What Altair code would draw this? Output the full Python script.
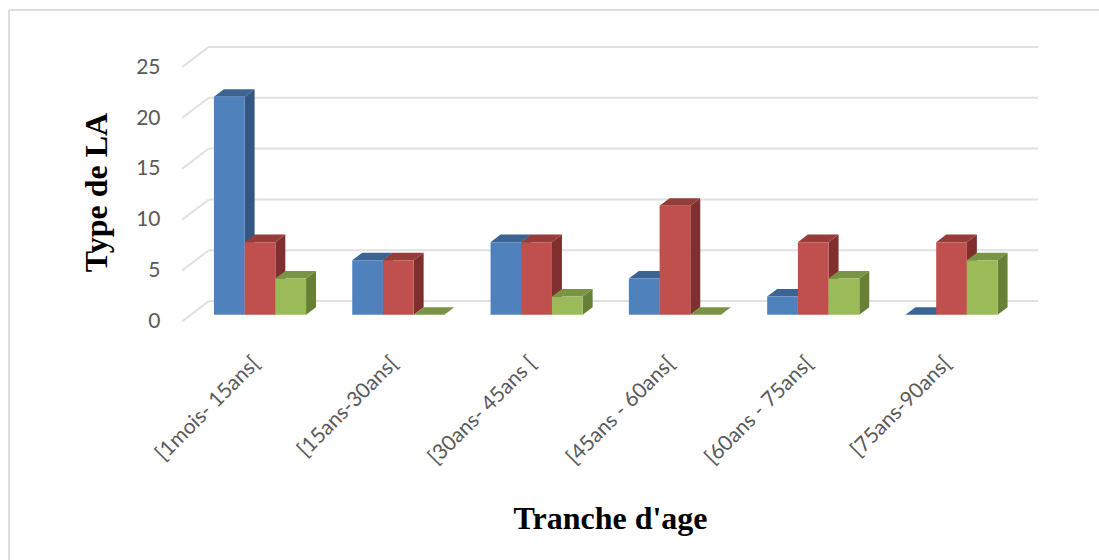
import altair as alt
import pandas as pd

# Shares per age bracket and per type, in percent
categories = ["[1mois- 15ans[", "[15ans-30ans[", "[30ans- 45ans [", "[45ans - 60ans[", "[60ans - 75ans[", "[75ans-90ans["]
series_a = [21.43, 5.36, 7.14, 3.57, 1.79, 0.0]
series_b = [7.14, 5.36, 7.14, 10.71, 7.14, 7.14]
series_c = [3.57, 0.0, 1.79, 0.0, 3.57, 5.36]
series_values = [series_a, series_b, series_c]
tick_values = [0, 5, 10, 15, 20, 25]

front_colors = ["#4F81BD", "#C0504D", "#9BBB59"]
top_colors = ["#3B6493", "#963C3A", "#7A9446"]
side_colors = ["#335782", "#7F2F2D", "#678036"]

# Oblique projection, in axis units
BAR_W = 0.222
DEPTH_X = 0.072
DEPTH_Y = 0.74
WALL_SHIFT = 1.34
FRONT_SHIFT = -0.66
WALL_X = -0.37
FLOOR_X = -0.564
RIGHT_X = 5.625

x_scale = alt.Scale(domain=[FLOOR_X, RIGHT_X], nice=False, zero=False)
y_scale = alt.Scale(domain=[-1.5, 28], nice=False, zero=False)

label_expr = "[" + ",".join(f'"{c}"' for c in categories) + "][datum.value]"

X = alt.X(
    "x:Q",
    scale=x_scale,
    title="Tranche d'age",
    axis=alt.Axis(
        values=list(range(len(categories))),
        labelExpr=label_expr,
        labelAngle=315,
        labelAlign="right",
        labelBaseline="middle",
        labelFont="Lato",
        labelFontSize=21,
        labelColor="#595959",
        labelPadding=30,
        labelOffset=-4,
        labelOverlap=False,
        labelBound=False,
        labelFlush=False,
        ticks=False,
        domain=False,
        grid=False,
        titleFont="Liberation Serif",
        titleFontSize=32,
        titleFontWeight="bold",
        titleColor="#000000",
        titleX=428,
        titleY=198,
        titleAlign="center",
        titleBaseline="alphabetic",
    ),
)
Y = alt.Y(
    "y:Q",
    scale=y_scale,
    title="Type de LA",
    axis=alt.Axis(
        values=[v + FRONT_SHIFT for v in tick_values],
        labelExpr=f"round(datum.value - ({FRONT_SHIFT}))",
        labelFont="Lato",
        labelFontSize=21,
        labelColor="#595959",
        labelPadding=22,
        labelOverlap=False,
        labelBound=False,
        labelFlush=False,
        ticks=False,
        domain=False,
        grid=False,
        titleFont="Liberation Serif",
        titleFontSize=32,
        titleFontWeight="bold",
        titleColor="#000000",
        titleX=-76,
        titleY=162,
        titleAngle=270,
        titleAlign="center",
        titleBaseline="alphabetic",
    ),
)

layers = []

# Back-wall gridlines and their slanted returns on the side wall
grid = pd.DataFrame({"v": tick_values})
grid["x"] = WALL_X
grid["x2"] = RIGHT_X
grid["y"] = grid["v"] + WALL_SHIFT
grid["xf"] = FLOOR_X
grid["yf"] = grid["v"] + FRONT_SHIFT
layers.append(alt.Chart(grid).mark_rule(color="#E0E0E0", strokeWidth=2).encode(x=X, x2="x2:Q", y=Y))
layers.append(alt.Chart(grid).mark_rule(color="#E0E0E0", strokeWidth=2).encode(x=X, x2="xf:Q", y=Y, y2="yf:Q"))

# Each series draws side, top, then front, so later series overlap earlier ones
for s, values in enumerate(series_values):
    front_rows, side_rows, top_rows = [], [], []
    for i, v in enumerate(values):
        left = i - 1.5 * BAR_W + s * BAR_W
        right = left + BAR_W
        front_rows.append({"x": left, "x2": right, "y": 0, "y2": v})
        side_rows.append({"id": i, "x": right, "y": 0, "y2": v})
        side_rows.append({"id": i, "x": right + DEPTH_X, "y": DEPTH_Y, "y2": v + DEPTH_Y})
        # The top face as vertical slices of a parallelogram
        top_rows.append({"id": i, "x": left, "y": v, "y2": v})
        top_rows.append({"id": i, "x": left + DEPTH_X, "y": v, "y2": v + DEPTH_Y})
        top_rows.append({"id": i, "x": right, "y": v, "y2": v + DEPTH_Y})
        top_rows.append({"id": i, "x": right + DEPTH_X, "y": v + DEPTH_Y, "y2": v + DEPTH_Y})
    layers.append(
        alt.Chart(pd.DataFrame(side_rows))
        .mark_area(color=side_colors[s], interpolate="linear")
        .encode(x=X, y=Y, y2="y2:Q", detail="id:N")
    )
    layers.append(
        alt.Chart(pd.DataFrame(top_rows))
        .mark_area(color=top_colors[s], interpolate="linear")
        .encode(x=X, y=Y, y2="y2:Q", detail="id:N")
    )
    layers.append(
        alt.Chart(pd.DataFrame(front_rows))
        .mark_rect(color=front_colors[s])
        .encode(x=X, x2="x2:Q", y=Y, y2="y2:Q")
    )

# Frame along the top and left edges of the sheet
frame_top = alt.Chart(pd.DataFrame({"k": [0]})).mark_rule(color="#DDDDDD", strokeWidth=2).encode(
    x=alt.value(-173), x2=alt.value(917), y=alt.value(-20)
)
frame_left = alt.Chart(pd.DataFrame({"k": [0]})).mark_rule(color="#DDDDDD", strokeWidth=2).encode(
    x=alt.value(-173), y=alt.value(-20), y2=alt.value(531)
)

chart = (
    alt.layer(*layers, frame_top, frame_left)
    .resolve_scale(x="shared", y="shared")
    .properties(
        width=856,
        height=300,
        padding={"left": 182, "top": 30, "right": 61, "bottom": 230},
        autosize=alt.AutoSizeParams(type="none"),
        background="#FFFFFF",
    )
    .configure_view(stroke=None)
)

chart.save("out.html", embed_options={"renderer": "svg", "actions": False})
